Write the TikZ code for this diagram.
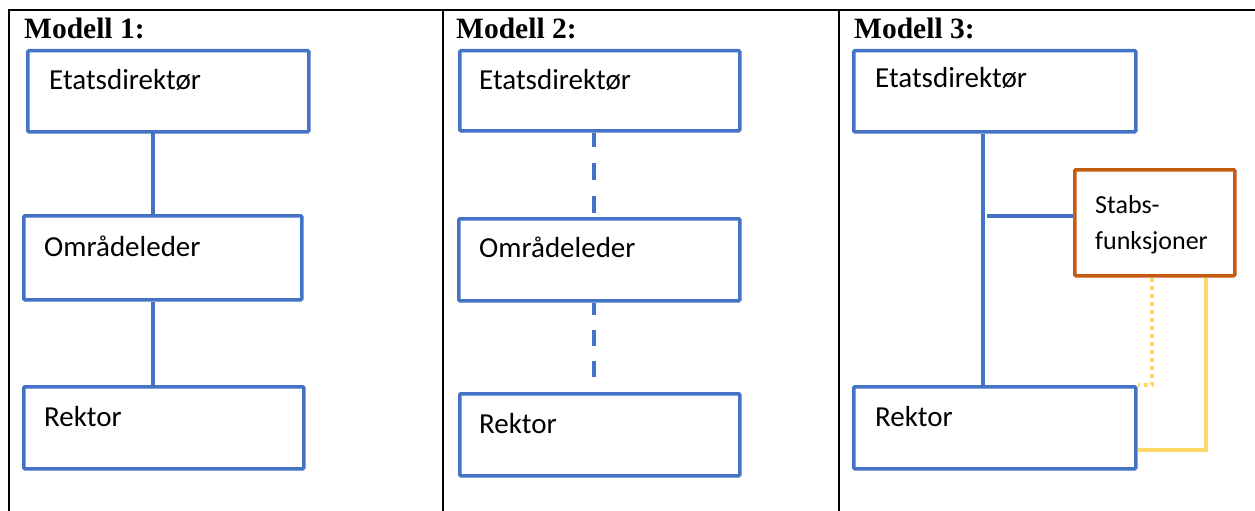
\documentclass[tikz,border=0pt]{standalone}
\usepackage{fontspec}
\setmainfont{Carlito}
\newfontfamily\headfont{Liberation Serif}
\definecolor{orgblue}{HTML}{4472C4}
\definecolor{staborange}{HTML}{C55A11}
\definecolor{staffyellow}{HTML}{FFD966}
\begin{document}
\begin{tikzpicture}[x=1pt,y=-1pt,
  orgbox/.style={draw=orgblue, line width=3.5pt, rounded corners=1pt, inner sep=0pt, anchor=north west},
  stabbox/.style={orgbox, draw=staborange},
  txt/.style={font=\fontsize{29}{35}\selectfont, inner sep=0pt, anchor=base west},
  head/.style={font=\headfont\bfseries\fontsize{29.5}{35}\selectfont, inner sep=0pt, anchor=base west},
  rule/.style={draw=black, line width=2.2pt},
  conn/.style={draw=orgblue, line width=3.5pt},
  dashconn/.style={conn, line width=4pt, dash pattern=on 17pt off 16pt},
  staffline/.style={draw=staffyellow, line width=4pt},
  staffdots/.style={staffline, dash pattern=on 4pt off 4pt}]
\useasboundingbox (0,0) rectangle (1255,511);
\fill[white] (0,0) rectangle (1255,511);

% table frame
\coordinate (tl) at (8,10);
\coordinate (tr) at (1255,10);
\draw[rule] (tl) -- (tr);
\draw[rule] (9,10) -- (9,511);
\draw[rule] (443,10) -- (443,511);
\draw[rule] (839,10) -- (839,511);

% column headings
\node[head] (h1) at (24,38) {Modell 1:};
\node[head] (h2) at (456,38) {Modell 2:};
\node[head] (h3) at (854,38) {Modell 3:};

% ---- Modell 1: solid line of command
\node[orgbox, minimum width=281pt, minimum height=81pt] (e1) at (26,49) {};
\node[orgbox, minimum width=278pt, minimum height=84pt] (o1) at (22,214) {};
\node[orgbox, minimum width=280pt, minimum height=82pt] (r1) at (22,385) {};
\node[txt] (e1t) at ([shift={(23,40)}]e1.north west) {Etatsdirektør};
\node[txt] (o1t) at ([shift={(22,42)}]o1.north west) {Områdeleder};
\node[txt] (r1t) at ([shift={(22,41)}]r1.north west) {Rektor};
\coordinate (m1) at (153,0);
\draw[conn] ([yshift=3pt]e1.south -| m1) -- (o1.north -| m1);
\draw[conn] (o1.south -| m1) -- (r1.north -| m1);

% ---- Modell 2: dashed line of command
\node[orgbox, minimum width=280pt, minimum height=80pt] (e2) at (458,49) {};
\node[orgbox, minimum width=281pt, minimum height=82pt] (o2) at (457,217) {};
\node[orgbox, minimum width=280pt, minimum height=82pt] (r2) at (458,392) {};
\node[txt] (e2t) at ([shift={(21,40)}]e2.north west) {Etatsdirektør};
\node[txt] (o2t) at ([shift={(22,40)}]o2.north west) {Områdeleder};
\node[txt] (r2t) at ([shift={(21,41)}]r2.north west) {Rektor};
\coordinate (m2) at (594,0);
\draw[dashconn, dash phase=3pt] (e2.south -| m2) -- (o2.north -| m2);
\draw[dashconn, dash pattern=on 16pt off 15pt, dash phase=4pt] (o2.south -| m2) -- (r2.north -| m2);

% ---- Modell 3: line of command with staff functions
\node[orgbox, minimum width=282pt, minimum height=81pt] (e3) at (852,49) {};
\node[orgbox, minimum width=282pt, minimum height=82pt] (r3) at (852,385) {};
\node[stabbox, minimum width=160pt, minimum height=106pt] (s3) at (1073,168) {};
\node[txt] (e3t) at ([shift={(23,39)}]e3.north west) {Etatsdirektør};
\node[txt] (r3t) at ([shift={(23,41)}]r3.north west) {Rektor};
\node[font=\fontsize{26}{36}\selectfont, inner sep=0pt, anchor=base west, align=left] (s3t)
  at ([shift={(22,81)}]s3.north west) {Stabs-\\funksjoner};
\coordinate (m3) at (983,0);
\coordinate (b3) at (987,216);
\draw[conn] (e3.south -| m3) -- (r3.north -| m3);
\draw[conn] (b3) -- (s3.west |- b3);
\coordinate (d3) at (1152,0);
\coordinate (y3) at (1206,0);
\draw[staffdots] (s3.south -| d3) |- (r3.north east);
\draw[staffline] (s3.south -| y3) |- ([yshift=-22pt]r3.east);
\end{tikzpicture}
\end{document}
